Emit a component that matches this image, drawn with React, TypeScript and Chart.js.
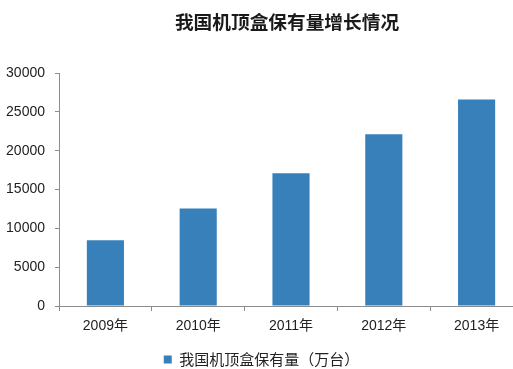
import React, { useEffect, useRef } from "react";
import { Chart, registerables } from "chart.js";

Chart.register(...registerables);

const titleText = "我国机顶盒保有量增长情况";
const seriesName = "我国机顶盒保有量（万台）";
const categories = ["2009年", "2010年", "2011年", "2012年", "2013年"];
const values = [8450, 12560, 17100, 22100, 26600];
const yTicks = [0, 5000, 10000, 15000, 20000, 25000, 30000];

const titlePlugin = {
  id: "customTitle",
  afterDraw(chart: any) {
    const ctx = chart.ctx;
    ctx.save();
    ctx.font = 'bold 18.7px "Noto Sans CJK SC"';
    ctx.fillStyle = "#1a1a1a";
    ctx.textAlign = "center";
    ctx.textBaseline = "middle";
    ctx.fillText(titleText, 287, 22);
    ctx.restore();
  },
};

export default function App() {
  const ref = useRef<HTMLCanvasElement | null>(null);
  useEffect(() => {
    if (!ref.current) return;
    const axisColor = "#8c8c8c";
    const chart = new Chart(ref.current, {
      type: "bar",
      data: {
        labels: categories,
        datasets: [
          {
            label: seriesName,
            data: values,
            backgroundColor: "#3780b9",
            borderWidth: 0,
            categoryPercentage: 1,
            barPercentage: 0.4,
          },
        ],
      },
      options: {
        responsive: false,
        animation: false,
        layout: { padding: { left: 0, right: 17, top: 73, bottom: 2 } },
        plugins: {
          title: { display: false },
          tooltip: { enabled: false },
          legend: {
            display: true,
            position: "bottom",
            labels: {
              boxWidth: 8,
              boxHeight: 8,
              padding: 8,
              color: "#222",
              font: { size: 15, family: '"Noto Sans CJK SC"' },
            },
          },
        },
        scales: {
          x: {
            offset: true,
            grid: {
              display: true,
              drawOnChartArea: false,
              offset: true,
              tickLength: 5,
              color: axisColor,
            },
            border: { display: true, color: axisColor },
            ticks: {
              padding: 7,
              color: "#222",
              font: { size: 14, family: '"Liberation Sans", "Noto Sans CJK SC"' },
            },
            afterFit(scale: any) {
              scale.height = 38;
            },
          },
          y: {
            min: 0,
            max: 30000,
            afterBuildTicks(scale: any) {
              scale.ticks = yTicks.map((v) => ({ value: v }));
            },
            grid: {
              display: true,
              drawOnChartArea: false,
              tickLength: 4,
              color: axisColor,
            },
            border: { display: true, color: axisColor },
            ticks: {
              padding: 10,
              color: "#222",
              font: { size: 14, family: '"Liberation Sans"' },
              callback: (v: any) => String(v),
            },
            afterFit(scale: any) {
              scale.width = 59;
            },
          },
        },
      },
      plugins: [titlePlugin],
    });
    return () => chart.destroy();
  }, []);
  return (
    <div
      style={{
        position: "fixed",
        left: 0,
        top: 0,
        width: 513,
        height: 369,
        overflow: "hidden",
        background: "#fff",
      }}
    >
      <canvas ref={ref} width={540} height={379} style={{ display: "block" }} />
    </div>
  );
}
